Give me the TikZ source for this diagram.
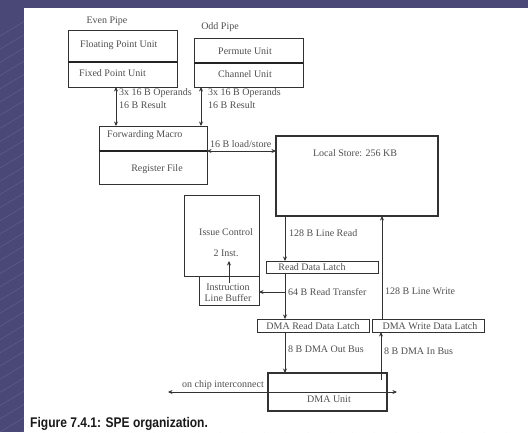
\documentclass[tikz,border=0pt]{standalone}
\usepackage{fontspec}
\usepackage{graphicx}
\setmainfont{Liberation Serif}
\newfontfamily\capfont{Liberation Sans}
\usetikzlibrary{arrows.meta}
\definecolor{bgblue}{RGB}{74,72,118}
\definecolor{stripecol}{RGB}{125,123,170}
\definecolor{txt}{RGB}{80,80,80}
\definecolor{ln}{RGB}{50,50,50}
\begin{document}
\begin{tikzpicture}[x=1pt,y=-1pt,
  box/.style={draw=ln, fill=white, line width=1pt, inner sep=0pt, outer sep=0pt},
  lbl/.style={text=txt, inner sep=0pt, font=\fontsize{10}{12}\selectfont},
  divline/.style={draw=ln!70!black, line width=1.6pt},
  conn/.style={draw=ln, line width=1pt},
  tip/.style={-{Stealth[length=4.5pt,width=4pt]}},
  both/.style={{Stealth[length=4.5pt,width=4pt]}-{Stealth[length=4.5pt,width=4pt]}},
  stripeline/.style={draw=stripecol, line width=0.5pt, opacity=0.45}]
\useasboundingbox (0,0) rectangle (528,432);
% background
\fill[bgblue] (0,0) rectangle (528,432);
\begin{scope}
  \clip (0,0) rectangle (528,432);
  \foreach \i in {-30,...,26} {
    \draw[stripeline] (\i*22,432) -- ++(700,-420);
  }
\end{scope}
\fill[white] (24,8) rectangle (528,432);

% boxes
\node[box, minimum width=109pt, minimum height=32pt] (fput) at (122.5,46) {};
\node[box, minimum width=109pt, minimum height=25pt] (fpub) at (122.5,74.5) {};
\draw[divline] (fput.south west) -- (fput.south east);
\node[box, minimum width=109pt, minimum height=25pt] (put) at (248.5,50.5) {};
\node[box, minimum width=109pt, minimum height=24pt] (pub) at (248.5,75) {};
\draw[divline] (put.south west) -- (put.south east);
\node[box, minimum width=108pt, minimum height=25pt] (fmt) at (153,138.5) {};
\node[box, minimum width=108pt, minimum height=33pt] (fmb) at (153,167.5) {};
\draw[divline] (fmt.south west) -- (fmt.south east);
\node[box, line width=1.2pt, minimum width=162pt, minimum height=80pt] (ls) at (357,176) {};
\node[box, minimum width=75pt, minimum height=81pt] (ic) at (221.5,235.5) {};
\node[box, minimum width=60pt, minimum height=29pt] (ilb) at (229,290.5) {};
\node[box, minimum width=112pt, minimum height=12pt] (rdl) at (322,267) {};
\node[box, minimum width=112pt, minimum height=13pt] (dmar) at (313,325.5) {};
\node[box, minimum width=112pt, minimum height=13pt] (dmaw) at (428,325.5) {};
\node[box, line width=1.2pt, minimum width=119pt, minimum height=38pt] (dma) at (327.5,392) {};

% texts
\node[lbl] (tep) at (107,21) {Even Pipe};
\node[lbl] (top) at (220,27) {Odd Pipe};
\node[lbl, anchor=west] (tfpu) at (80,45) {Floating Point Unit};
\node[lbl, anchor=west] (tfxu) at (79,73) {Fixed Point Unit};
\node[lbl] (tpu) at (245,51) {Permute Unit};
\node[lbl] (tcu) at (245,74) {Channel Unit};
\node[lbl, anchor=west] (top1) at (119,93) {3x 16 B Operands};
\node[lbl, anchor=west] (tres1) at (119,105) {16 B Result};
\node[lbl, anchor=west] (top2) at (208,93) {3x 16 B Operands};
\node[lbl, anchor=west] (tres2) at (208,105) {16 B Result};
\node[lbl, anchor=west] (tfm) at (107,135) {Forwarding Macro};
\node[lbl] (trf) at (157,169) {Register File};
\node[lbl, anchor=base west] (tlsl) at (210,147.5) {16 B load/store};
\node[lbl] (tls) at (355,153) {Local Store: 256 KB};
\node[lbl] (tic) at (226,232) {Issue Control};
\node[lbl] (ti2) at (226,253) {2 Inst.};
\node[lbl] (tilb1) at (228,287) {Instruction};
\node[lbl] (tilb2) at (228,298.5) {Line Buffer};
\node[lbl] (trdl) at (312,267) {Read Data Latch};
\node[lbl] (tdmar) at (313,326) {DMA Read Data Latch};
\node[lbl] (tdmaw) at (430,326) {DMA Write Data Latch};
\node[lbl] (tdma) at (329,399.5) {DMA Unit};
\node[lbl, anchor=base west] (tlr) at (289,236.5) {128 B Line Read};
\node[lbl, anchor=base west] (trt) at (288,295.5) {64 B Read Transfer};
\node[lbl, anchor=base west] (tlw) at (385,294.5) {128 B Line Write};
\node[lbl, anchor=base west] (tob) at (288,352) {8 B DMA Out Bus};
\node[lbl, anchor=base west] (tib) at (384,354) {8 B DMA In Bus};
\node[lbl, anchor=base east] (toc) at (264,387) {on chip interconnect};
\node[anchor=base west, inner sep=0pt, text=black!90] (cap) at (30,427.5)
  {\capfont\bfseries\fontsize{14}{16}\selectfont\scalebox{0.86}[1]{Figure 7.4.1: SPE organization.}};

% connectors
\coordinate (xa) at (116,0);
\coordinate (xb) at (201,0);
\coordinate (xr) at (285,0);
\coordinate (xw) at (382,0);
\draw[conn, both] (fpub.south -| xa) -- (fmt.north -| xa);
\draw[conn, both] (pub.south -| xb) -- (fmt.north -| xb);
\draw[conn, both] (fmt.south east) -- (fmt.south east -| ls.west);
\draw[conn, tip] (ls.south -| xr) -- (rdl.north -| xr);
\draw[conn, tip] (rdl.south -| xr) -- (dmar.north -| xr);
\coordinate (br) at (285,292);
\draw[conn, tip] (br) -- (br -| ilb.east);
\draw[conn, tip] (dmaw.north -| xw) -- (ls.south -| xw);
\draw[conn, tip] (dmar.south -| xr) -- (dma.north -| xr);
\coordinate (inb) at (381,380);
\draw[conn, tip] (inb) -- (inb |- dmaw.south);
\coordinate (ocl) at (168,392);
\coordinate (ocr) at (397,392);
\draw[conn, both] (ocr) -- (ocl);
\coordinate (ilbup) at (229,283);
\coordinate (icin) at (229,261);
\draw[conn, tip] (ilbup) -- (icin);
\end{tikzpicture}
\end{document}
